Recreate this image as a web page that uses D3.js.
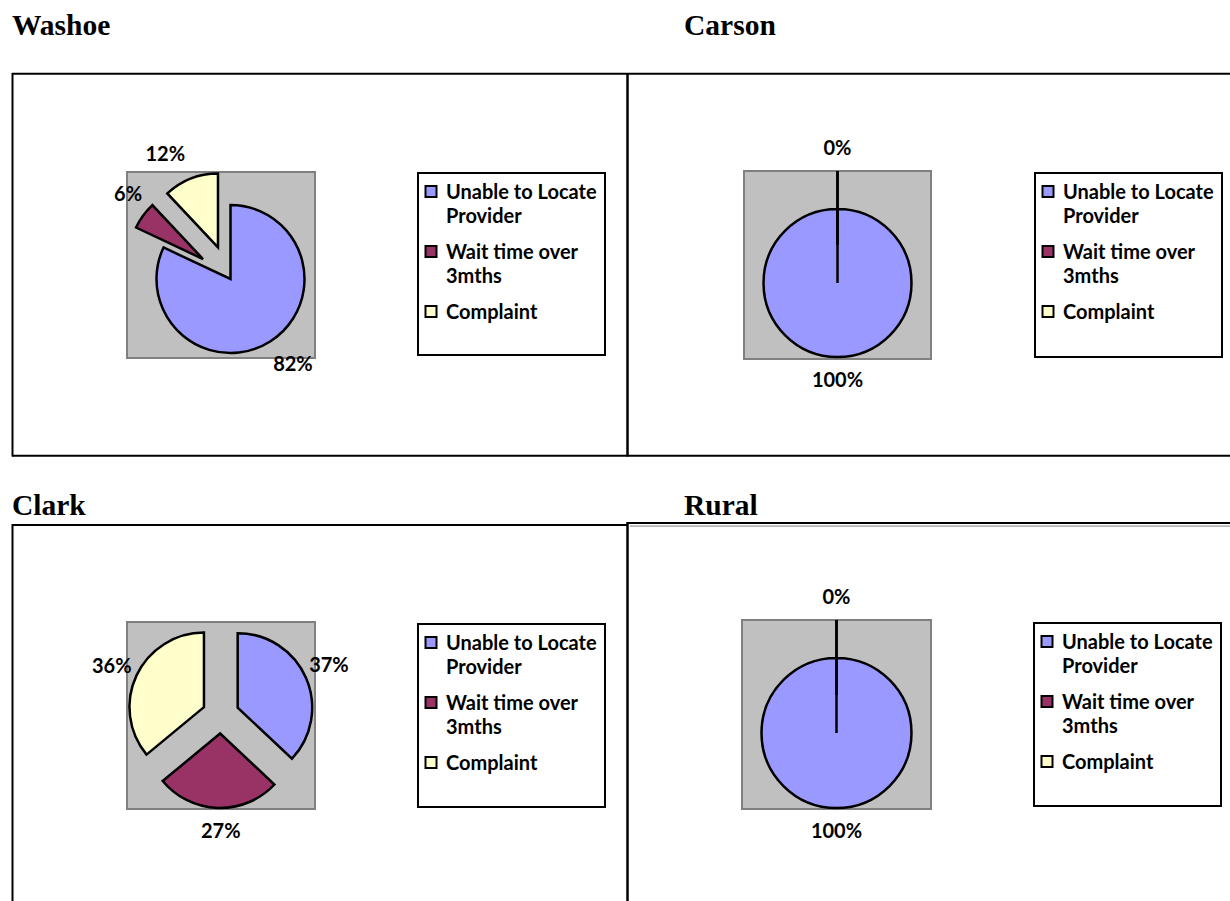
<!DOCTYPE html>
<html>
<head>
<meta charset="utf-8">
<script src="https://cdn.jsdelivr.net/npm/d3@7"></script>
<style>
  html, body { margin: 0; padding: 0; background: #fff; }
  svg { display: block; }
  .title { font-family: "Liberation Serif", "Times New Roman", serif; font-weight: bold; font-size: 29.5px; fill: #000; }
  .lbl { font-family: Lato, "Open Sans", sans-serif; font-weight: bold; font-size: 20px; fill: #000; }
</style>
</head>
<body>
<svg id="chart" width="1230" height="901"></svg>
<script>
// ---- data ----
const regions = ["Washoe", "Carson", "Clark", "Rural"];
const categories = ["Unable to Locate Provider", "Wait time over 3mths", "Complaint"];
const legendLines = [["Unable to Locate", "Provider"], ["Wait time over", "3mths"], ["Complaint"]];
const washoeValues = [82, 6, 12];
const carsonValues = [100, 0, 0];
const clarkValues = [37, 27, 36];
const ruralValues = [100, 0, 0];
const valuesByRegion = { Washoe: washoeValues, Carson: carsonValues, Clark: clarkValues, Rural: ruralValues };

// ---- styling / layout ----
const color = d3.scaleOrdinal().domain(categories).range(["#9999FF", "#993366", "#FFFFCC"]);

const layout = {
  Washoe: { title: [12, 35],  plot: [127, 172, 188, 186], center: [230.5, 279], r: 74,   explode: [0, 34, 34],
            legend: [418, 173, 187, 182], nudge: [[10.5, 3], [3.5, -8.5], [-17, -3]] },
  Carson: { title: [684, 35], plot: [744, 171, 187, 188], center: [837.5, 283], r: 74,   explode: [0, 38, 38],
            legend: [1035, 173, 187, 184], nudge: [[0, 0], [0, 0], [0, 0]] },
  Clark:  { title: [12, 515], plot: [127, 622, 188, 187], center: [220.7, 715], r: 74.5, explode: [18.5, 18.5, 18.5],
            legend: [418, 624, 187, 183], nudge: [[1.8, -3.5], [3.7, 0], [-4, 0]] },
  Rural:  { title: [684, 515], plot: [742, 620, 189, 189], center: [836.5, 733], r: 75,  explode: [0, 38, 38],
            legend: [1034, 623, 187, 183], nudge: [[0, 0], [0, 0], [0, 0]] }
};
const labelGap = 23;
const legendBaselines = [[26, 50], [86, 110], [146]];

const svg = d3.select("#chart");

// ---- frame lines around the panels ----
const frame = svg.append("g").attr("stroke", "#000").attr("fill", "none");
[
  [12, 73.7, 1230, 73.7, 2],
  [12.5, 73, 12.5, 456.5, 2],
  [12, 455.7, 1230, 455.7, 2],
  [627.5, 73, 627.5, 456.5, 2.5],
  [12, 525, 628, 525, 2],
  [12.5, 524, 12.5, 901, 2],
  [627.5, 522, 627.5, 901, 2.5],
  [627, 523, 1230, 523, 2]
].forEach(([x1, y1, x2, y2, w]) => {
  frame.append("line").attr("x1", x1).attr("y1", y1).attr("x2", x2).attr("y2", y2).attr("stroke-width", w);
});
frame.append("line").attr("x1", 630).attr("y1", 526.2).attr("x2", 1230).attr("y2", 526.2)
  .attr("stroke", "#9a9a9a").attr("stroke-width", 1.2);

// wedge drawn from centre, like a spreadsheet pie slice (edges always stroked)
function slicePath(a0, a1, r) {
  const p = d3.path();
  p.moveTo(0, 0);
  p.lineTo(r * Math.sin(a0), -r * Math.cos(a0));
  if (a1 > a0) p.arc(0, 0, r, a0 - Math.PI / 2, a1 - Math.PI / 2);
  p.closePath();
  return p.toString();
}

const pie = d3.pie().sort(null).value(d => d);

regions.forEach(region => {
  const L = layout[region];
  const values = valuesByRegion[region];
  const g = svg.append("g").attr("class", "panel");

  g.append("text").attr("class", "title").attr("x", L.title[0]).attr("y", L.title[1]).text(region);

  // plot area
  const [px, py, pw, ph] = L.plot;
  g.append("rect").attr("x", px).attr("y", py).attr("width", pw).attr("height", ph)
    .attr("fill", "#C0C0C0").attr("stroke", "#808080").attr("stroke-width", 2);

  const arcs = pie(values);
  const pieG = g.append("g").attr("transform", `translate(${L.center[0]},${L.center[1]})`);

  const slices = arcs.map((a, i) => {
    const mid = (a.startAngle + a.endAngle) / 2;
    const dx = Math.sin(mid), dy = -Math.cos(mid);
    return { a, i, mid, dx, dy, ox: dx * L.explode[i], oy: dy * L.explode[i] };
  });

  pieG.selectAll("path.slice").data(slices).join("path")
    .attr("class", "slice")
    .attr("transform", d => `translate(${d.ox},${d.oy})`)
    .attr("d", d => slicePath(d.a.startAngle, d.a.endAngle, L.r))
    .attr("fill", d => color(categories[d.i]))
    .attr("stroke", "#000")
    .attr("stroke-width", 2.5)
    .attr("stroke-linejoin", "miter");

  // data labels outside each slice; identical labels at one spot are drawn once
  const seen = new Set();
  slices.forEach(d => {
    const dist = L.r + labelGap;
    const x = d.ox + d.dx * dist + L.nudge[d.i][0];
    const y = d.oy + d.dy * dist + L.nudge[d.i][1];
    const txt = d.a.value + "%";
    const key = txt + "|" + x.toFixed(1) + "|" + y.toFixed(1);
    if (seen.has(key)) return;
    seen.add(key);
    pieG.append("text").attr("class", "lbl")
      .attr("x", x).attr("y", y).attr("dy", "0.35em")
      .attr("text-anchor", "middle").text(txt);
  });

  // legend
  const [lx, ly, lw, lh] = L.legend;
  const lg = g.append("g").attr("transform", `translate(${lx},${ly})`);
  lg.append("rect").attr("width", lw).attr("height", lh)
    .attr("fill", "#fff").attr("stroke", "#000").attr("stroke-width", 2);
  categories.forEach((c, i) => {
    const bl = legendBaselines[i];
    lg.append("rect").attr("x", 7.5).attr("y", bl[0] - 13).attr("width", 11).attr("height", 11)
      .attr("fill", color(c)).attr("stroke", "#000").attr("stroke-width", 2);
    const t = lg.append("text").attr("class", "lbl");
    legendLines[i].forEach((line, k) => {
      t.append("tspan").attr("x", 28).attr("y", bl[k]).text(line);
    });
  });
});
</script>
</body>
</html>
